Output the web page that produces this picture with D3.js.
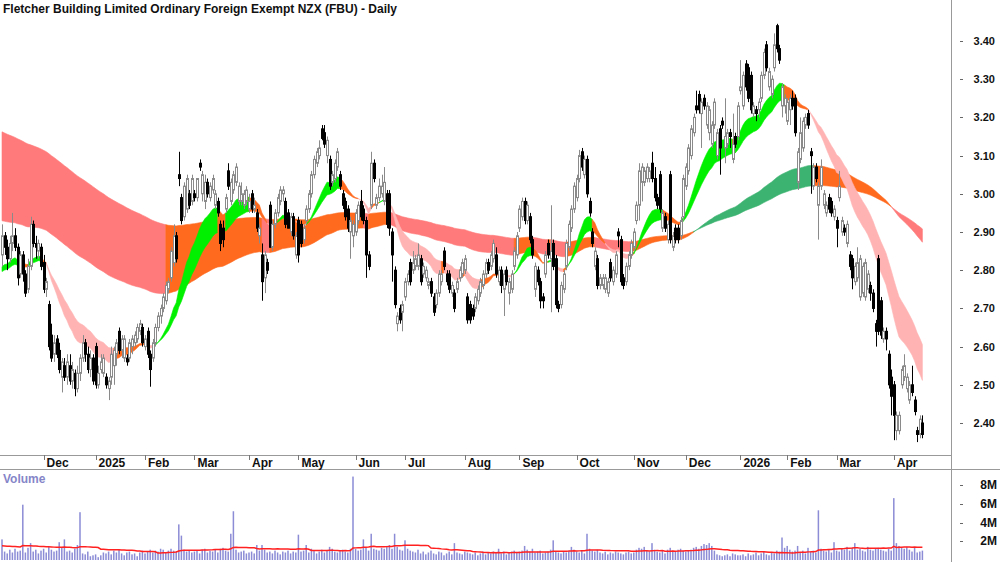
<!DOCTYPE html>
<html>
<head>
<meta charset="utf-8">
<script src="https://cdn.jsdelivr.net/npm/d3@7/dist/d3.min.js"></script>
<style>
  body { margin: 0; background: #fff; }
  svg { display: block; font-family: "Liberation Sans", Arial, sans-serif; }
</style>
</head>
<body>
<svg id="canvas" width="1000" height="562"></svg>
<script>
let title = 'Fletcher Building Limited Ordinary Foreign Exempt NZX (FBU) - Daily'

// trading calendar
let startDate = '2024-11-08'
let holidays = ['2024-12-25', '2024-12-26', '2025-01-01', '2025-01-02', '2025-01-20', '2025-01-27',
    '2025-02-06', '2025-04-18', '2025-04-21', '2025-04-25', '2025-06-02', '2025-06-20', '2025-10-27',
    '2025-12-25', '2025-12-26', '2026-01-01', '2026-01-02', '2026-01-19', '2026-01-26', '2026-02-06',
    '2026-04-03', '2026-04-06']

// daily [open, high, low, close]
let ohlc = [
    // Nov 2024
    [2.84,2.92,2.81,2.89],[2.89,2.90,2.84,2.86],[2.86,2.88,2.80,2.83],[2.83,2.89,2.82,2.87],
    [2.87,2.95,2.85,2.89],[2.89,2.91,2.85,2.86],[2.86,2.87,2.76,2.78],[2.79,2.85,2.78,2.84],
    [2.84,2.85,2.77,2.79],[2.79,2.80,2.73,2.74],[2.75,2.83,2.74,2.81],[2.81,2.94,2.80,2.92],
    [2.92,2.93,2.86,2.87],[2.87,2.89,2.83,2.86],[2.85,2.88,2.83,2.87],[2.86,2.87,2.80,2.81],
    // Dec
    [2.82,2.84,2.74,2.75],[2.75,2.78,2.73,2.77],[2.71,2.72,2.59,2.60],[2.63,2.66,2.56,2.57],
    [2.58,2.63,2.56,2.61],[2.62,2.63,2.57,2.58],[2.59,2.61,2.53,2.54],[2.52,2.57,2.48,2.56],
    [2.55,2.57,2.51,2.52],[2.52,2.58,2.50,2.56],[2.55,2.58,2.50,2.51],[2.51,2.56,2.49,2.54],
    [2.53,2.54,2.47,2.49],[2.49,2.55,2.48,2.53],[2.53,2.58,2.51,2.57],[2.57,2.63,2.56,2.61],
    [2.61,2.62,2.56,2.58],[2.58,2.60,2.53,2.54],[2.54,2.59,2.52,2.57],[2.57,2.58,2.50,2.51],
    // Jan 2025
    [2.60,2.61,2.49,2.50],[2.50,2.55,2.49,2.53],[2.54,2.58,2.53,2.56],[2.53,2.58,2.52,2.57],
    [2.52,2.53,2.49,2.50],[2.49,2.52,2.46,2.51],[2.52,2.60,2.50,2.58],[2.55,2.60,2.50,2.59],
    [2.58,2.62,2.55,2.61],[2.64,2.65,2.58,2.59],[2.59,2.63,2.57,2.62],[2.57,2.63,2.56,2.62],
    [2.57,2.58,2.55,2.56],[2.57,2.62,2.56,2.61],[2.60,2.63,2.58,2.62],[2.61,2.64,2.60,2.63],
    [2.62,2.66,2.61,2.65],[2.64,2.67,2.63,2.66],[2.65,2.66,2.60,2.61],
    // Feb
    [2.60,2.63,2.59,2.62],[2.64,2.65,2.57,2.58],[2.58,2.59,2.495,2.54],[2.57,2.62,2.56,2.61],
    [2.61,2.66,2.60,2.65],[2.65,2.69,2.64,2.68],[2.68,2.71,2.66,2.70],[2.70,2.74,2.69,2.73],
    [2.72,2.77,2.71,2.76],[2.75,2.78,2.74,2.77],[2.78,2.86,2.77,2.85],[2.82,2.92,2.81,2.89],
    [2.89,2.90,2.82,2.83],[3.05,3.11,3.02,3.04],[2.99,3.00,2.92,2.93],[2.94,3.03,2.93,3.02],
    [2.96,3.05,2.95,3.04],[3.00,3.01,2.96,2.97],[2.98,3.05,2.97,3.04],
    // Mar
    [3.00,3.01,2.98,2.99],[2.99,3.04,2.98,3.04],[3.08,3.09,3.06,3.07],[3.00,3.06,2.98,3.05],
    [2.98,3.05,2.96,3.03],[3.03,3.04,2.99,3.00],[2.99,3.03,2.98,3.02],[3.01,3.05,3.00,3.04],
    [2.97,3.01,2.96,3.00],[2.98,2.99,2.94,2.95],[2.92,2.93,2.85,2.87],[2.91,2.93,2.86,2.88],
    [2.96,3.00,2.95,2.99],[3.06,3.08,3.01,3.02],[2.98,3.04,2.97,3.03],[3.01,3.06,3.00,3.05],
    [3.03,3.08,3.02,3.07],[2.98,3.03,2.97,3.02],[2.98,3.03,2.97,3.00],[2.97,3.01,2.96,3.00],
    [2.98,3.02,2.97,3.01],
    // Apr
    [2.96,3.00,2.95,2.98],[3.00,3.01,2.95,2.96],[2.96,2.99,2.95,2.97],[2.95,2.96,2.90,2.91],
    [2.89,2.92,2.87,2.91],[2.84,2.87,2.72,2.77],[2.78,2.85,2.74,2.84],[2.82,2.83,2.79,2.80],
    [2.97,2.98,2.86,2.86],[2.86,2.93,2.85,2.92],[2.92,2.96,2.91,2.95],[2.95,3.00,2.94,2.99],
    [2.98,3.02,2.97,3.01],[3.00,3.02,2.98,3.01],[2.98,2.99,2.91,2.92],[2.95,2.96,2.91,2.91],
    [2.90,2.95,2.89,2.94],[2.94,2.95,2.88,2.89],[2.84,2.90,2.83,2.89],
    // May
    [2.93,2.94,2.82,2.84],[2.92,2.93,2.86,2.87],[2.88,2.92,2.87,2.91],[2.93,2.97,2.92,2.96],
    [2.96,3.01,2.95,3.00],[3.00,3.06,2.99,3.05],[3.05,3.10,3.04,3.09],[3.08,3.12,3.07,3.11],
    [3.10,3.14,3.09,3.12],[3.17,3.18,3.14,3.145],[3.16,3.18,3.12,3.13],[3.10,3.15,3.08,3.14],
    [3.09,3.10,3.01,3.02],[3.03,3.06,3.02,3.05],[3.04,3.09,3.03,3.08],[3.07,3.12,3.06,3.11],
    [3.05,3.06,3.01,3.02],[3.00,3.01,2.96,2.97],[2.98,2.99,2.93,2.94],[2.96,2.97,2.90,2.91],
    [2.90,2.94,2.83,2.93],[2.89,2.93,2.86,2.92],
    // Jun
    [2.90,2.96,2.89,2.95],[2.93,2.98,2.92,2.97],[2.98,3.01,2.93,2.94],[2.96,2.97,2.92,2.93],
    [2.93,2.94,2.78,2.84],[2.84,2.85,2.80,2.81],[2.97,3.11,2.96,3.08],[3.08,3.09,3.03,3.04],
    [2.97,3.00,2.96,2.99],[2.99,3.04,2.98,3.02],[3.00,3.05,2.99,3.02],[2.98,3.07,2.97,3.03],
    [3.00,3.01,2.91,2.92],[3.00,3.01,2.89,2.91],[2.90,2.91,2.77,2.84],[2.80,2.81,2.70,2.71],
    [2.66,2.69,2.64,2.68],[2.70,2.71,2.66,2.67],[2.69,2.72,2.64,2.71],
    // Jul
    [2.73,2.78,2.72,2.77],[2.77,2.80,2.76,2.79],[2.82,2.83,2.76,2.77],[2.80,2.85,2.79,2.82],
    [2.81,2.84,2.80,2.83],[2.81,2.87,2.80,2.84],[2.83,2.84,2.76,2.77],[2.79,2.82,2.78,2.81],
    [2.78,2.81,2.77,2.80],[2.76,2.78,2.75,2.77],[2.77,2.78,2.73,2.74],[2.73,2.74,2.68,2.69],
    [2.71,2.75,2.70,2.74],[2.74,2.80,2.73,2.79],[2.77,2.80,2.76,2.79],[2.85,2.86,2.80,2.81],
    [2.79,2.80,2.76,2.77],[2.79,2.80,2.74,2.75],[2.74,2.77,2.73,2.76],[2.74,2.75,2.69,2.70],
    [2.75,2.78,2.74,2.77],[2.78,2.81,2.77,2.80],[2.79,2.83,2.78,2.82],
    // Aug
    [2.80,2.84,2.79,2.83],[2.73,2.74,2.66,2.67],[2.71,2.72,2.66,2.67],[2.70,2.71,2.67,2.68],
    [2.70,2.74,2.69,2.73],[2.72,2.76,2.71,2.75],[2.74,2.78,2.73,2.77],[2.76,2.80,2.75,2.79],
    [2.79,2.83,2.78,2.82],[2.82,2.83,2.79,2.80],[2.81,2.85,2.80,2.84],[2.83,2.88,2.82,2.87],
    [2.84,2.86,2.78,2.79],[2.77,2.81,2.76,2.80],[2.80,2.81,2.74,2.76],[2.75,2.80,2.68,2.79],
    [2.80,2.81,2.76,2.77],[2.74,2.78,2.71,2.77],[2.75,2.80,2.74,2.79],[2.81,2.86,2.80,2.85],
    [2.84,2.90,2.83,2.89],
    // Sep
    [2.91,2.97,2.90,2.96],[2.94,2.99,2.93,2.98],[2.98,2.99,2.92,2.93],[2.93,2.98,2.92,2.97],
    [2.94,2.95,2.87,2.88],[2.88,2.89,2.83,2.84],[2.75,2.82,2.73,2.81],[2.80,2.81,2.76,2.77],
    [2.77,2.78,2.70,2.72],[2.73,2.74,2.70,2.72],[2.79,2.85,2.78,2.84],[2.87,2.88,2.83,2.84],
    [2.83,2.97,2.69,2.85],[2.87,2.88,2.80,2.81],[2.83,2.84,2.70,2.71],[2.71,2.72,2.69,2.70],
    [2.71,2.77,2.70,2.76],[2.75,2.80,2.74,2.79],[2.81,2.88,2.80,2.87],[2.86,2.93,2.85,2.92],
    [2.91,2.97,2.90,2.96],[2.96,3.03,2.95,3.02],
    // Oct
    [2.99,3.05,2.98,3.04],[3.04,3.115,3.03,3.10],[3.11,3.12,3.06,3.07],[3.05,3.10,3.04,3.09],
    [3.09,3.10,2.99,3.00],[2.98,2.99,2.94,2.95],[2.90,2.91,2.86,2.87],[2.81,2.86,2.80,2.85],
    [2.83,2.84,2.75,2.76],[2.76,2.79,2.75,2.78],[2.76,2.79,2.75,2.78],[2.75,2.79,2.74,2.78],
    [2.74,2.78,2.73,2.77],[2.82,2.83,2.77,2.78],[2.77,2.81,2.76,2.80],[2.79,2.85,2.78,2.84],
    [2.90,2.91,2.86,2.89],[2.88,2.89,2.76,2.77],[2.78,2.79,2.75,2.76],[2.77,2.82,2.76,2.81],
    [2.81,2.85,2.80,2.84],[2.84,2.88,2.83,2.87],
    // Nov
    [2.86,2.91,2.85,2.90],[2.93,2.98,2.92,2.97],[2.97,3.08,2.93,3.06],[3.03,3.08,2.98,3.07],
    [3.03,3.07,3.02,3.06],[3.04,3.08,3.03,3.07],[3.04,3.07,3.03,3.06],[3.08,3.11,3.03,3.04],
    [3.04,3.07,2.98,2.99],[2.99,3.00,2.96,2.97],[3.05,3.06,2.95,2.96],[2.91,2.96,2.90,2.95],
    [2.94,2.95,2.90,2.91],[2.88,2.93,2.87,2.92],[3.05,3.06,2.87,2.88],[2.86,2.90,2.85,2.89],
    [2.91,2.92,2.87,2.88],[2.91,2.92,2.87,2.88],[2.89,2.94,2.88,2.93],[2.94,3.05,2.93,3.04],
    // Dec
    [3.02,3.08,3.01,3.07],[3.06,3.13,3.05,3.12],[3.10,3.18,3.09,3.17],[3.16,3.21,3.15,3.20],
    [3.23,3.27,3.21,3.22],[3.26,3.27,3.21,3.22],[3.21,3.25,3.12,3.24],[3.25,3.26,3.22,3.23],
    [3.18,3.24,3.17,3.23],[3.16,3.23,3.14,3.22],[3.13,3.19,3.12,3.18],[3.18,3.25,3.17,3.24],
    [3.10,3.17,3.09,3.16],[3.17,3.18,3.05,3.12],[3.19,3.20,3.17,3.18],[3.12,3.25,3.08,3.15],
    [3.13,3.17,3.12,3.16],[3.16,3.17,3.12,3.15],[3.09,3.21,3.08,3.13],[3.15,3.16,3.12,3.13],
    [3.15,3.24,3.14,3.23],
    // Jan 2026
    [3.27,3.35,3.26,3.28],[3.23,3.32,3.22,3.31],[3.34,3.35,3.27,3.28],[3.33,3.34,3.24,3.25],
    [3.31,3.32,3.21,3.22],[3.21,3.24,3.20,3.23],[3.22,3.23,3.19,3.21],[3.22,3.25,3.20,3.24],
    [3.25,3.32,3.24,3.31],[3.31,3.38,3.30,3.37],[3.39,3.40,3.32,3.33],[3.28,3.33,3.27,3.32],
    [3.26,3.31,3.25,3.30],[3.33,3.42,3.32,3.39],[3.44,3.445,3.37,3.38],[3.38,3.39,3.34,3.35],
    [3.23,3.29,3.20,3.28],[3.23,3.26,3.21,3.25],
    // Feb
    [3.19,3.25,3.18,3.24],[3.22,3.26,3.18,3.25],[3.25,3.27,3.22,3.23],[3.25,3.26,3.15,3.16],
    [3.03,3.12,3.01,3.11],[3.09,3.20,3.08,3.16],[3.12,3.20,3.11,3.19],[3.18,3.21,3.17,3.20],
    [3.21,3.22,3.17,3.18],[3.11,3.12,3.00,3.10],[3.02,3.08,3.01,3.07],[3.07,3.08,3.03,3.04],
    [2.97,3.03,2.88,3.02],[3.02,3.09,3.01,3.07],[2.97,3.01,2.96,3.00],[2.95,2.98,2.94,2.97],
    [2.99,3.00,2.95,2.96],[2.98,2.99,2.94,2.95],[2.94,2.97,2.93,2.96],
    // Mar
    [2.93,2.94,2.86,2.91],[2.99,3.06,2.98,3.02],[2.90,2.94,2.89,2.93],[2.91,2.92,2.89,2.90],
    [2.87,2.93,2.86,2.92],[2.84,2.85,2.80,2.81],[2.83,2.84,2.75,2.78],[2.77,2.82,2.76,2.81],
    [2.78,2.86,2.77,2.82],[2.73,2.84,2.72,2.83],[2.74,2.82,2.73,2.81],[2.73,2.83,2.72,2.82],
    [2.75,2.80,2.74,2.79],[2.76,2.77,2.72,2.74],[2.74,2.75,2.69,2.70],[2.66,2.67,2.60,2.64],
    [2.83,2.84,2.63,2.64],[2.72,2.73,2.62,2.63],[2.62,2.65,2.61,2.64],[2.64,2.65,2.59,2.62],
    [2.58,2.59,2.49,2.50],[2.52,2.54,2.42,2.47],
    // Apr
    [2.50,2.51,2.355,2.42],[2.38,2.43,2.355,2.42],[2.38,2.43,2.37,2.42],[2.50,2.55,2.49,2.54],
    [2.52,2.58,2.51,2.55],[2.49,2.53,2.48,2.52],[2.46,2.51,2.45,2.50],[2.50,2.55,2.47,2.48],
    [2.46,2.47,2.42,2.43],[2.38,2.39,2.35,2.37],[2.37,2.42,2.36,2.41],[2.40,2.42,2.36,2.37]
]

// daily volume, millions of shares
let volumeM = [
    2.2,0.9,0.7,1.1,0.8,1.2,0.9,1.0,5.9,0.8,1.3,1.8,0.9,1.1,0.7,1.0,
    1.2,0.8,1.4,1.1,0.9,1.0,1.9,1.3,2.2,0.9,1.0,0.8,1.2,1.6,5.1,0.7,0.6,0.9,0.4,0.5,
    0.6,0.3,0.5,0.8,0.7,0.9,0.6,1.0,0.8,1.1,0.7,0.5,0.8,0.9,0.6,0.7,0.4,0.8,1.0,
    0.7,0.9,1.1,0.8,1.0,0.9,1.2,1.1,0.8,1.0,1.2,1.0,0.9,3.8,2.6,1.1,0.9,1.0,0.8,
    0.9,1.0,0.7,1.1,1.2,0.8,1.0,0.9,1.1,0.8,1.2,1.3,1.0,0.9,2.8,5.2,1.1,0.8,0.9,1.0,0.7,
    0.8,0.9,0.7,1.6,1.0,1.6,1.1,0.8,0.9,0.7,1.0,0.8,0.6,0.9,0.8,1.0,0.7,0.9,0.8,
    2.7,0.9,1.0,1.6,0.8,1.2,1.0,0.7,0.9,1.1,0.8,1.0,1.4,1.2,0.9,0.8,1.0,1.1,0.9,0.8,1.2,8.9,
    1.2,1.0,1.1,2.2,1.3,1.0,2.8,1.2,1.1,1.0,1.3,1.2,1.5,1.6,1.2,2.8,1.4,1.1,1.0,
    2.1,1.2,1.0,0.9,0.8,1.1,0.7,0.9,0.6,0.8,1.0,0.7,0.6,0.9,0.8,0.5,0.7,0.9,0.6,1.8,0.8,0.7,0.6,
    0.9,0.8,0.7,0.6,0.8,0.5,0.7,0.9,0.6,0.8,0.7,0.9,0.8,1.2,0.7,0.9,0.6,0.8,0.9,1.0,0.8,
    0.9,1.0,1.5,1.1,0.9,1.2,0.8,0.9,1.0,0.7,0.8,0.9,1.1,2.1,0.9,0.8,0.7,0.9,0.8,1.0,1.4,1.1,
    0.9,0.8,1.0,0.7,2.8,1.2,1.0,0.9,1.1,0.8,0.7,0.9,0.6,0.8,0.7,0.9,0.8,0.7,0.6,0.8,0.9,0.7,
    0.8,1.1,1.3,1.2,1.4,1.0,0.9,1.8,1.1,0.9,0.8,1.0,0.7,1.1,1.3,1.0,0.9,1.1,1.2,1.0,
    0.9,1.0,1.1,1.3,1.4,1.2,1.5,1.7,1.6,1.8,1.5,1.0,0.6,0.5,0.4,0.5,0.6,0.4,0.7,0.6,0.5,
    0.5,0.6,0.4,0.7,0.5,0.6,0.8,0.5,0.7,0.9,0.6,0.5,0.8,0.7,1.0,0.9,2.4,1.3,
    1.5,1.1,0.9,1.0,1.5,0.8,1.0,0.7,1.3,0.9,1.0,0.8,5.3,1.2,1.0,0.9,1.1,0.8,1.9,
    1.0,0.9,1.2,1.1,1.4,1.0,1.3,1.8,1.1,1.2,1.0,0.9,1.4,1.1,1.0,1.2,1.3,1.1,1.0,0.9,1.2,1.0,
    6.6,1.8,1.5,1.3,1.2,1.4,1.1,0.9,1.3,0.8,0.9,1.0
]

let priceTicks = [2.40, 2.50, 2.60, 2.70, 2.80, 2.90, 3.00, 3.10, 3.20, 3.30, 3.40]
let volumeTicks = [2, 4, 6, 8]

// moving average ribbons: [fast, slow] periods and their values before the first bar
let shortPeriods = [18, 30]
let shortSeed = [2.80, 2.79]
let longPeriods = [120, 200]
let longSeed = [2.93, 3.165]
let slopeLookback = 3
let volMaPeriod = 30
let volMaSeed = 1.5

let shortColors = { up: '#00f000', mixed: '#ff6a1f', down: '#ffb3b3' }
let longColors = { up: '#3cb371', mixed: '#ff6a1f', down: '#ff7a7a' }

let canvas = d3.select('#canvas')
canvas.append('rect').attr('width', 1000).attr('height', 562).attr('fill', '#fff')

// build trading dates
let parse = d3.timeParse('%Y-%m-%d')
let fmt = d3.timeFormat('%Y-%m-%d')
let holidaySet = new Set(holidays)
let dates = []
let day = parse(startDate)
while (dates.length < ohlc.length) {
    let wd = day.getDay()
    if (wd !== 0 && wd !== 6 && !holidaySet.has(fmt(day))) dates.push(day)
    day = d3.timeDay.offset(day, 1)
}

let n = ohlc.length
let closes = ohlc.map(d => d[3])

let xScale = d3.scaleLinear().domain([0, n - 1]).range([2, 2 + (n - 1) * 2.6])
let yScale = d3.scaleLinear().domain([2.40, 3.40]).range([423, 41])
let vScale = d3.scaleLinear().domain([0, 8]).range([560, 485])

let ema = (vals, period, seed) => {
    let a = 2 / (period + 1)
    let prev = seed
    return vals.map(v => prev = prev + a * (v - prev))
}

let drawBand = (periods, seeds, colors) => {
    let fast = ema(closes, periods[0], seeds[0])
    let slow = ema(closes, periods[1], seeds[1])
    let state = fast.map((f, i) => {
        let back = i - slopeLookback
        let prev = back < 0 ? seeds[0] : fast[back]
        let rising = f >= prev
        if (f >= slow[i]) return rising ? 'up' : 'mixed'
        return rising ? 'mixed' : 'down'
    })
    let runs = []
    state.forEach((s, i) => {
        let last = runs[runs.length - 1]
        if (last && last.s === s) last.end = i
        else runs.push({ s: s, start: i, end: i })
    })
    let area = d3.area()
        .x(i => xScale(i))
        .y0(i => yScale(Math.min(fast[i], slow[i])))
        .y1(i => yScale(Math.max(fast[i], slow[i])))
    canvas.append('g').selectAll('path')
        .data(runs)
        .enter()
        .append('path')
        .attr('d', r => area(d3.range(Math.max(0, r.start - 1), r.end + 1)))
        .attr('fill', r => colors[r.s])
        .attr('stroke', r => colors[r.s])
        .attr('stroke-width', 0.6)
}

drawBand(longPeriods, longSeed, longColors)
drawBand(shortPeriods, shortSeed, shortColors)

// candles
let candles = canvas.append('g')
candles.selectAll('line')
    .data(ohlc)
    .enter()
    .append('line')
    .attr('x1', (d, i) => Math.round(xScale(i)) + 0.5)
    .attr('x2', (d, i) => Math.round(xScale(i)) + 0.5)
    .attr('y1', d => yScale(d[1]))
    .attr('y2', d => yScale(d[2]))
    .attr('stroke', d => d[3] >= d[0] ? '#8a8a8a' : '#000')
    .attr('stroke-width', 1)

candles.selectAll('rect')
    .data(ohlc)
    .enter()
    .append('rect')
    .attr('x', (d, i) => Math.round(xScale(i)) - 0.5)
    .attr('width', 2)
    .attr('y', d => yScale(Math.max(d[0], d[3])))
    .attr('height', d => Math.max(1, Math.abs(yScale(d[0]) - yScale(d[3]))))
    .attr('fill', d => d[3] >= d[0] ? '#fff' : '#000')
    .attr('stroke', d => d[3] >= d[0] ? '#8a8a8a' : '#000')
    .attr('stroke-width', 1)

// frame lines
canvas.append('line').attr('x1', 0).attr('x2', 951).attr('y1', 455.5).attr('y2', 455.5).attr('stroke', '#999')
canvas.append('line').attr('x1', 0).attr('x2', 1000).attr('y1', 469.5).attr('y2', 469.5).attr('stroke', '#999')
canvas.append('line').attr('x1', 951.5).attr('x2', 951.5).attr('y1', 0).attr('y2', 562).attr('stroke', '#999')

// date axis
let monthStarts = d3.range(1, n).filter(i => dates[i].getMonth() !== dates[i - 1].getMonth())
let dateAxis = canvas.append('g')
dateAxis.selectAll('line')
    .data(monthStarts)
    .enter()
    .append('line')
    .attr('x1', i => Math.round(xScale(i)) + 0.5)
    .attr('x2', i => Math.round(xScale(i)) + 0.5)
    .attr('y1', 455)
    .attr('y2', 460)
    .attr('stroke', '#777')
dateAxis.selectAll('text')
    .data(monthStarts)
    .enter()
    .append('text')
    .attr('x', i => xScale(i) + 3)
    .attr('y', 467)
    .attr('font-size', 12)
    .attr('font-weight', 'bold')
    .attr('fill', '#111')
    .text(i => dates[i].getMonth() === 0 ? d3.timeFormat('%Y')(dates[i]) : d3.timeFormat('%b')(dates[i]))

// price axis
let priceAxis = canvas.append('g')
priceAxis.selectAll('line')
    .data(priceTicks)
    .enter()
    .append('line')
    .attr('x1', 960).attr('x2', 963)
    .attr('y1', d => Math.round(yScale(d)) + 0.5)
    .attr('y2', d => Math.round(yScale(d)) + 0.5)
    .attr('stroke', '#666')
priceAxis.selectAll('text')
    .data(priceTicks)
    .enter()
    .append('text')
    .attr('x', 995)
    .attr('y', d => yScale(d) + 4)
    .attr('text-anchor', 'end')
    .attr('font-size', 11)
    .attr('font-weight', 'bold')
    .attr('fill', '#111')
    .text(d => d.toFixed(2))

// title
canvas.append('text')
    .attr('x', 3).attr('y', 13)
    .attr('font-size', 12).attr('font-weight', 'bold').attr('fill', '#111')
    .text(title)

// volume panel
canvas.append('text')
    .attr('x', 3).attr('y', 483)
    .attr('font-size', 12).attr('font-weight', 'bold').attr('fill', '#8585c8')
    .text('Volume')

canvas.append('g').selectAll('rect')
    .data(volumeM)
    .enter()
    .append('rect')
    .attr('x', (d, i) => xScale(i) - 0.75)
    .attr('width', 1.5)
    .attr('y', d => vScale(d))
    .attr('height', d => vScale(0) - vScale(d))
    .attr('fill', '#8c8cd6')

let volMa = volumeM.map((v, i) => {
    let lo = i - volMaPeriod + 1
    let sum = d3.sum(volumeM.slice(Math.max(0, lo), i + 1))
    if (lo < 0) sum += -lo * volMaSeed
    return sum / volMaPeriod
})
canvas.append('path')
    .datum(volMa)
    .attr('d', d3.line().x((d, i) => xScale(i)).y(d => vScale(d)))
    .attr('fill', 'none')
    .attr('stroke', '#ff2020')
    .attr('stroke-width', 1.5)

let volAxis = canvas.append('g')
volAxis.selectAll('line')
    .data(volumeTicks)
    .enter()
    .append('line')
    .attr('x1', 960).attr('x2', 963)
    .attr('y1', d => Math.round(vScale(d)) + 0.5)
    .attr('y2', d => Math.round(vScale(d)) + 0.5)
    .attr('stroke', '#666')
volAxis.selectAll('text')
    .data(volumeTicks)
    .enter()
    .append('text')
    .attr('x', 997)
    .attr('y', d => vScale(d) + 4)
    .attr('text-anchor', 'end')
    .attr('font-size', 12)
    .attr('font-weight', 'bold')
    .attr('fill', '#111')
    .text(d => d + 'M')
</script>
</body>
</html>
